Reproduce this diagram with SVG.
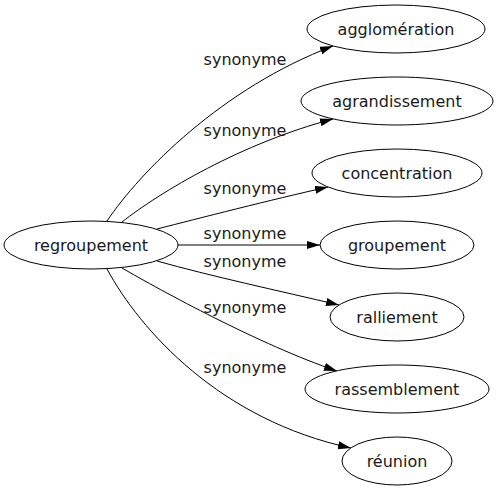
<svg xmlns="http://www.w3.org/2000/svg" width="497" height="491" viewBox="0 0 497 491">
<defs>
<style>
.node ellipse{fill:#fff;stroke:#000;stroke-width:1}
.node text,.lbl{font-family:"DejaVu Sans",Verdana,sans-serif;font-size:16px;fill:#1a1a1a;text-anchor:middle}
.edge{fill:none;stroke:#000;stroke-width:1;marker-end:url(#arr)}
</style>
<marker id="arr" markerUnits="userSpaceOnUse" markerWidth="14" markerHeight="9" refX="13" refY="4" orient="auto">
<path d="M0,0 L13,4 L0,8 z" fill="#000"/>
</marker>
</defs>
<rect width="497" height="491" fill="#fff"/>
<g id="connectors">
<path class="edge" d="M107,221 C140,172 222,88 333,46"/>
<path class="edge" d="M122,222 C160,192 242,143 333,119"/>
<path class="edge" d="M157,229 C200,218 270,200 328,187"/>
<path class="edge" d="M178,245 L320,245"/>
<path class="edge" d="M157,261 C210,276 280,291 339,305"/>
<path class="edge" d="M122,268 C160,290 260,345 337,371"/>
<path class="edge" d="M107,269 C140,330 220,420 351,448"/>
<text class="lbl" x="245" y="65">synonyme</text>
<text class="lbl" x="245" y="136">synonyme</text>
<text class="lbl" x="245" y="194">synonyme</text>
<text class="lbl" x="245" y="239">synonyme</text>
<text class="lbl" x="245" y="267">synonyme</text>
<text class="lbl" x="245" y="313">synonyme</text>
<text class="lbl" x="245" y="373">synonyme</text>
</g>
<g id="n-regroupement" class="node"><ellipse cx="91" cy="245" rx="87" ry="24"/><text x="91" y="250.5">regroupement</text></g>
<g id="n-agglomeration" class="node"><ellipse cx="396" cy="29" rx="89" ry="24"/><text x="396" y="34.5">agglomération</text></g>
<g id="n-agrandissement" class="node"><ellipse cx="397" cy="101" rx="96" ry="24"/><text x="397" y="106.5">agrandissement</text></g>
<g id="n-concentration" class="node"><ellipse cx="397" cy="173" rx="85" ry="24"/><text x="397" y="178.5">concentration</text></g>
<g id="n-groupement" class="node"><ellipse cx="397" cy="245" rx="77" ry="24"/><text x="397" y="250.5">groupement</text></g>
<g id="n-ralliement" class="node"><ellipse cx="397" cy="317" rx="67" ry="24"/><text x="397" y="322.5">ralliement</text></g>
<g id="n-rassemblement" class="node"><ellipse cx="397" cy="389" rx="92" ry="24"/><text x="397" y="394.5">rassemblement</text></g>
<g id="n-reunion" class="node"><ellipse cx="397" cy="461" rx="55" ry="24"/><text x="397" y="466.5">réunion</text></g>
</svg>
